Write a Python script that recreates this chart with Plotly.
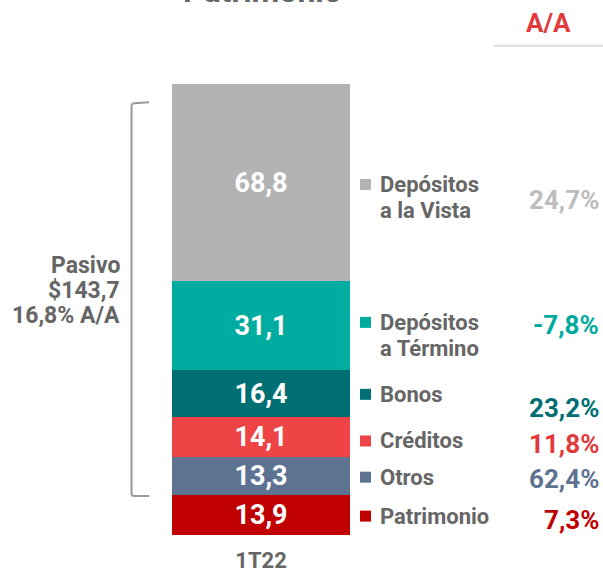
import plotly.graph_objects as go

# stacking order, bottom to top
categories = ["Patrimonio", "Otros", "Créditos", "Bonos", "Depósitos<br>a Término", "Depósitos<br>a la Vista"]
values = [13.9, 13.3, 14.1, 16.4, 31.1, 68.8]
yoy = ["7,3%", "62,4%", "11,8%", "23,2%", "-7,8%", "24,7%"]
period = "1T22"
pasivo_yoy = "16,8% A/A"

bar_colors = ["#c00000", "#5e7391", "#ef4446", "#006f73", "#00aca0", "#b3b3b3"]
pct_colors = ["#c00000", "#5e7391", "#e23a3c", "#006f73", "#00a99d", "#bdbdbd"]
# pixel nudges of the right-hand labels from the segment middle (label line 1, percentage)
label_shift = [-1, -1, -4, -1, 3, -2]
pct_shift = [-5, -3, -7, -15, 0, -18]

GREY = "#666666"
FONT = "Roboto"
LINE = 26  # px between lines of the two-line labels


def fmt(v):
    return f"{v:.1f}".replace(".", ",")


fig = go.Figure()

for cat, val, col in zip(categories, values, bar_colors):
    fig.add_bar(
        x=[period],
        y=[val],
        name=cat,
        marker=dict(color=col, line=dict(width=0)),
        width=0.6,
        text=[fmt(val)],
        textposition="inside",
        insidetextanchor="middle",
        textangle=0,
        textfont=dict(family=FONT, size=27, color="white", weight="bold"),
    )

annotations = []
shapes = []
base = 0
for cat, val, pct, col, pcol, ls, ps in zip(categories, values, yoy, bar_colors, pct_colors,
                                             label_shift, pct_shift):
    mid = base + val / 2
    base += val
    # legend square
    shapes.append(dict(
        type="rect", xref="paper", yref="y", xsizemode="pixel", ysizemode="pixel",
        xanchor=0.6061, yanchor=mid, x0=-5.5, x1=5.5, y0=ls - 5.5, y1=ls + 5.5,
        fillcolor=col, line=dict(width=0),
    ))
    for i, line in enumerate(cat.split("<br>")):
        annotations.append(dict(
            x=0.6269, xref="paper", y=mid, yref="y", xanchor="left", yanchor="middle",
            text=line, showarrow=False, yshift=ls - LINE * i,
            font=dict(family=FONT, size=22, color=GREY, weight="bold"),
        ))
    annotations.append(dict(
        x=0.9967, xref="paper", y=mid, yref="y", xanchor="right", yanchor="middle",
        text=pct, showarrow=False, yshift=ps,
        font=dict(family=FONT, size=26, color=pcol, weight="bold"),
    ))

total = sum(values)
patrimonio = values[0]
pasivo = total - patrimonio

for i, line in enumerate(["Pasivo", "$" + fmt(pasivo), pasivo_yoy]):
    annotations.append(dict(
        x=0.2023, xref="paper", y=patrimonio + pasivo / 2, yref="y", xanchor="right",
        yanchor="middle", text=line, showarrow=False, yshift=24 - 25 * i,
        font=dict(family=FONT, size=23, color=GREY, weight="bold"),
    ))

annotations.append(dict(
    x=0.9104, xref="paper", y=0.957, yref="paper", xanchor="center", yanchor="middle",
    text="A/A", showarrow=False,
    font=dict(family=FONT, size=26, color="#e03a3c", weight="bold"),
))
annotations.append(dict(
    x=0.4345, xref="paper", y=1, yref="paper", yanchor="bottom", text="Patrimonio",
    showarrow=False, yshift=-12,
    font=dict(family=FONT, size=32, color=GREY, weight="bold"),
))

top = patrimonio + pasivo - 6.7
bot = patrimonio - 0.3
shapes += [
    dict(type="path", xref="paper", yref="y",
         path=f"M 0.2471 {top + 0.3} L 0.2225 {top} Q 0.2181 {top} 0.2181 {top - 1} "
              f"L 0.2181 {bot + 1} Q 0.2181 {bot} 0.2225 {bot} L 0.2471 {bot}",
         line=dict(color="#999999", width=2)),
    dict(type="line", xref="paper", yref="paper", x0=0.8192, x1=1, y0=0.9146, y1=0.9146,
         line=dict(color="#dddddd", width=2)),
]

fig.update_layout(
    barmode="stack",
    width=603,
    height=569,
    margin=dict(l=0, r=0, t=0, b=34),
    plot_bgcolor="white",
    paper_bgcolor="white",
    showlegend=False,
    annotations=annotations,
    shapes=shapes,
    bargap=0,
)
fig.update_xaxes(
    range=[-0.8798, 1.1528], showgrid=False, zeroline=False, showline=False, automargin=False,
    tickfont=dict(family=FONT, size=22, color=GREY, weight="bold"), ticklabelstandoff=10,
)
fig.update_yaxes(range=[0, 186.95], visible=False, automargin=False)

# drop the browser's default 8px body margin so the figure fills the window exactly
fig.write_html(
    "out.html",
    config={"displayModeBar": False},
    post_script="document.body.style.margin='0';",
)
